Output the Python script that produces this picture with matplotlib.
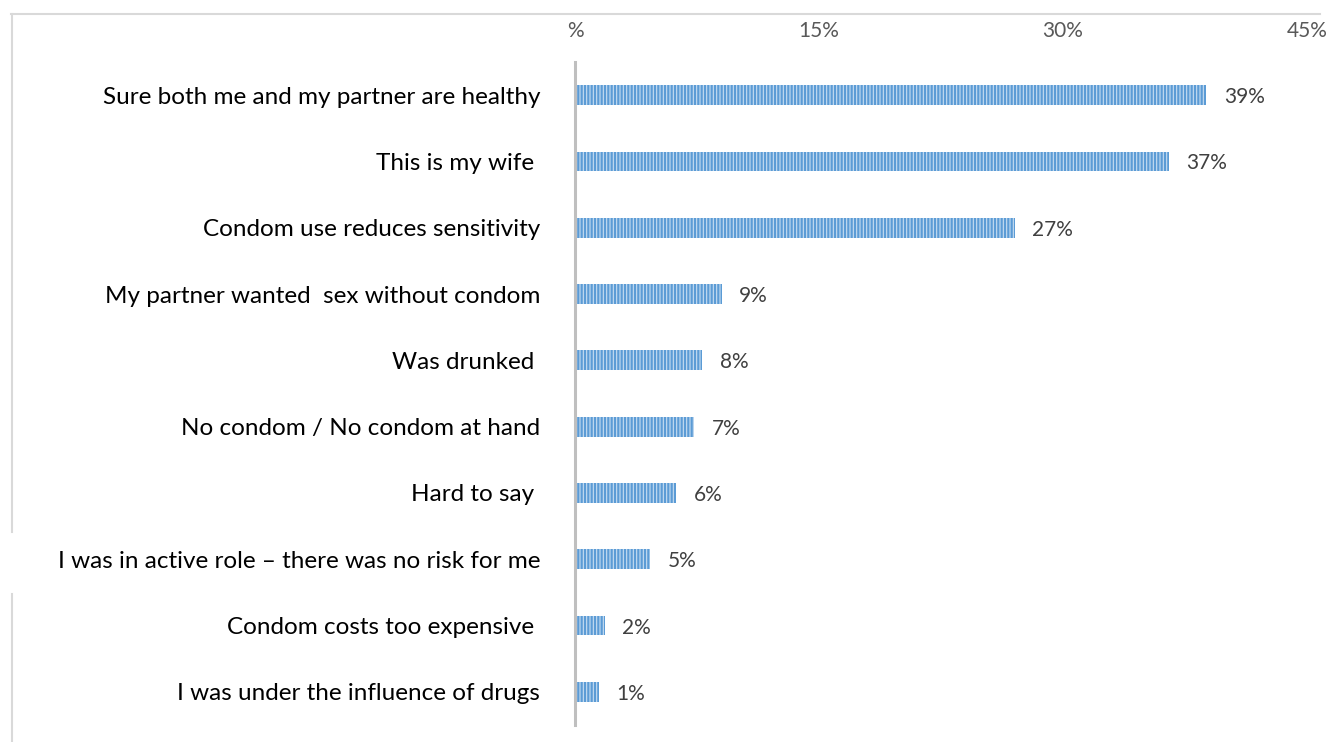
import matplotlib
matplotlib.use("Agg")
import matplotlib.pyplot as plt
from matplotlib.lines import Line2D

categories = [
    "Sure both me and my partner are healthy",
    "This is my wife ",
    "Condom use reduces sensitivity",
    "My partner wanted  sex without condom",
    "Was drunked ",
    "No condom / No condom at hand",
    "Hard to say ",
    "I was in active role \u2013 there was no risk for me",
    "Condom costs too expensive ",
    "I was under the influence of drugs",
]
values = [38.7, 36.4, 26.9, 8.9, 7.7, 7.2, 6.1, 4.5, 1.7, 1.35]
value_labels = ["39%", "37%", "27%", "9%", "8%", "7%", "6%", "5%", "2%", "1%"]
xticks = [0, 15, 30, 45]
xtick_labels = ["%", "15%", "30%", "45%"]

plt.rcParams['font.family'] = ['Lato', 'DejaVu Sans']
plt.rcParams['hatch.linewidth'] = 1.6

fig = plt.figure(figsize=(13.33, 7.42), dpi=100)
ax = fig.add_axes([575/1333, 1 - 725/742, (1307-575)/1333, (725-62)/742])

ypos = list(range(len(categories)))
ax.barh(ypos, values, height=0.3, left=0.12, color='#C9DEF2', edgecolor='#5B9BD5',
        hatch='|||||', linewidth=0)
for y, v, lab in zip(ypos, values, value_labels):
    ax.text(v + 1.2, y + 0.03, lab, va='center', ha='left', fontsize=15, color='#404040')

ax.set_xlim(0, 45)
ax.set_ylim(len(categories) - 0.5, -0.5)
ax.set_yticks(ypos)
ax.set_yticklabels(categories, fontsize=17.5, color='#000000')
ax.tick_params(axis='y', length=0, pad=25)
ax.xaxis.tick_top()
ax.set_xticks(xticks)
ax.set_xticklabels(xtick_labels, fontsize=15, color='#595959')
ax.tick_params(axis='x', length=0, pad=15)
for s in ['top', 'right', 'bottom']:
    ax.spines[s].set_visible(False)
ax.spines['left'].set_color('#BFBFBF')
ax.spines['left'].set_linewidth(2.2)

# outer frame remnants
W, H = 1333, 742
fig.add_artist(Line2D([11/W, 1320/W], [1 - 13.5/H, 1 - 13.5/H], color='#D9D9D9', lw=1.5))
fig.add_artist(Line2D([11.5/W, 11.5/W], [1 - 13.5/H, 1 - 532/H], color='#D9D9D9', lw=1.5))
fig.add_artist(Line2D([11.5/W, 11.5/W], [1 - 594/H, 0], color='#D9D9D9', lw=1.5))

fig.savefig("out.png", dpi=100)
